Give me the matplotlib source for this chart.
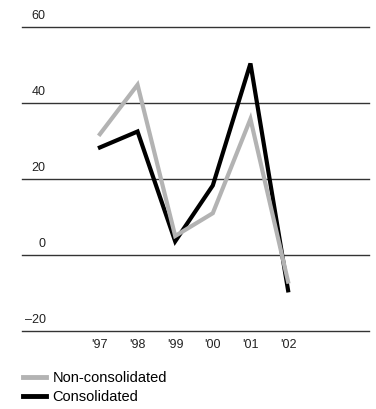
import matplotlib.pyplot as plt
from matplotlib.lines import Line2D

years = ["'97", "'98", "'99", "'00", "'01", "'02"]
non_consolidated = [31.8, 44.8, 5.0, 11.0, 35.8, -7.0]
consolidated = [28.3, 32.5, 3.6, 18.3, 50.4, -9.3]
y_ticks = [60, 40, 20, 0, -20]
y_labels = ["60", "40", "20", "0", "\u201320"]

plt.rcParams['font.family'] = ['Liberation Sans', 'DejaVu Sans']

fig = plt.figure(figsize=(3.76, 4.09), dpi=100)
ax = fig.add_axes([22/376, 78/409, 347/376, 304/409])
ax.set_xlim(-2.07, 7.15)
ax.set_ylim(-20, 60)
ax.axis('off')

for v, lab in zip(y_ticks, y_labels):
    ax.axhline(v, color='#333333', lw=1.0, clip_on=False, zorder=1)
    ax.text(0.068, v + 3.0, lab, transform=ax.get_yaxis_transform(),
            ha='right', va='center', fontsize=9, color='#222222')

x = list(range(len(years)))
ax.plot(x, consolidated, color='black', lw=3.0, solid_joinstyle='miter', zorder=2)
ax.plot(x, non_consolidated, color='#b3b3b3', lw=3.0, solid_joinstyle='miter', zorder=3)

for xi, lab in zip(x, years):
    ax.text(xi, -23.8, lab, ha='center', va='center', fontsize=9, color='#222222', clip_on=False)

handles = [Line2D([], [], color='#b3b3b3', lw=3.5), Line2D([], [], color='black', lw=3.5)]
fig.legend(handles, ['Non-consolidated', 'Consolidated'], loc='lower left',
           bbox_to_anchor=(0.035, -0.012), frameon=False, fontsize=10.5,
           handlelength=1.55, handletextpad=0.45, labelspacing=0.3, borderpad=0.2)

fig.savefig('out.png', dpi=100)
